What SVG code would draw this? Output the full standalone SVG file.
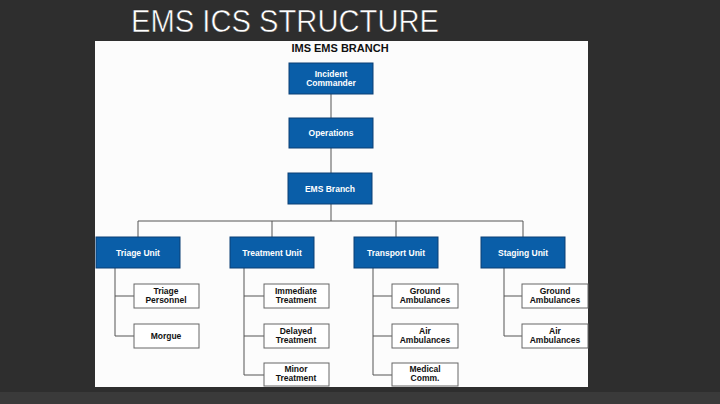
<svg xmlns="http://www.w3.org/2000/svg" width="720" height="404" viewBox="0 0 720 404">
<style>
.b{fill:#0a5ea8;stroke:#0a3f75;stroke-width:1}
.w{fill:#fff;stroke:#666;stroke-width:1}
.bt{fill:#fff;font:bold 8.5px "Liberation Sans",Arial,sans-serif;text-anchor:middle}
.wt{fill:#111;font:bold 8.5px "Liberation Sans",Arial,sans-serif;text-anchor:middle}
.c{stroke:#555;stroke-width:1;fill:none}
</style>
<rect width="720" height="404" fill="#2e2e2e"/>
<rect x="0" y="392" width="720" height="12" fill="#3a3a3a"/>
<text x="131" y="32" fill="#fff" stroke="#222" stroke-width="0.5" font-family="Liberation Sans,Arial,sans-serif" font-size="31" textLength="308" lengthAdjust="spacingAndGlyphs">EMS ICS STRUCTURE</text>
<rect x="95" y="41" width="493" height="346" fill="#fcfcfc"/>
<text x="340" y="52" font-family="Liberation Sans,Arial,sans-serif" font-weight="bold" font-size="11" text-anchor="middle" fill="#111">IMS EMS BRANCH</text>
<g id="connectors" class="c">
<path d="M331 94V118M331 148V173M331 204V221M138 221H523M138 221V237M272 221V237M396 221V237M523 221V237"/>
<path d="M115 268V336H134M115 296H134"/>
<path d="M244 268V375H264M244 296H264M244 336H264"/>
<path d="M373 268V375H392M373 296H392M373 336H392"/>
<path d="M504 268V336H522M504 296H522"/>
</g>
<g id="ic"><rect class="b" x="289" y="63" width="84" height="31"/><text class="bt" x="331" y="77">Incident</text><text class="bt" x="331" y="86">Commander</text></g>
<g id="ops"><rect class="b" x="289" y="118" width="84" height="30"/><text class="bt" x="331" y="136">Operations</text></g>
<g id="ems"><rect class="b" x="288" y="173" width="84" height="31"/><text class="bt" x="330" y="192">EMS Branch</text></g>
<g id="triage"><rect class="b" x="96" y="237" width="84" height="31"/><text class="bt" x="138" y="256">Triage Unit</text></g>
<g id="treatment"><rect class="b" x="230" y="237" width="84" height="31"/><text class="bt" x="272" y="256">Treatment Unit</text></g>
<g id="transport"><rect class="b" x="354" y="237" width="84" height="31"/><text class="bt" x="396" y="256">Transport Unit</text></g>
<g id="staging"><rect class="b" x="481" y="237" width="84" height="31"/><text class="bt" x="523" y="256">Staging Unit</text></g>
<g id="tp"><rect class="w" x="134" y="284" width="65" height="24"/><text class="wt" x="166" y="294">Triage</text><text class="wt" x="166" y="303">Personnel</text></g>
<g id="morgue"><rect class="w" x="134" y="324" width="65" height="24"/><text class="wt" x="166" y="339">Morgue</text></g>
<g id="imm"><rect class="w" x="264" y="284" width="65" height="24"/><text class="wt" x="296" y="294">Immediate</text><text class="wt" x="296" y="303">Treatment</text></g>
<g id="del"><rect class="w" x="264" y="324" width="65" height="24"/><text class="wt" x="296" y="334">Delayed</text><text class="wt" x="296" y="343">Treatment</text></g>
<g id="min"><rect class="w" x="264" y="363" width="65" height="23"/><text class="wt" x="296" y="372">Minor</text><text class="wt" x="296" y="381">Treatment</text></g>
<g id="tga"><rect class="w" x="392" y="284" width="66" height="24"/><text class="wt" x="425" y="294">Ground</text><text class="wt" x="425" y="303">Ambulances</text></g>
<g id="taa"><rect class="w" x="392" y="324" width="66" height="24"/><text class="wt" x="425" y="334">Air</text><text class="wt" x="425" y="343">Ambulances</text></g>
<g id="mc"><rect class="w" x="392" y="363" width="66" height="23"/><text class="wt" x="425" y="372">Medical</text><text class="wt" x="425" y="381">Comm.</text></g>
<g id="sga"><rect class="w" x="522" y="284" width="66" height="24"/><text class="wt" x="555" y="294">Ground</text><text class="wt" x="555" y="303">Ambulances</text></g>
<g id="saa"><rect class="w" x="522" y="324" width="66" height="24"/><text class="wt" x="555" y="334">Air</text><text class="wt" x="555" y="343">Ambulances</text></g>
</svg>
